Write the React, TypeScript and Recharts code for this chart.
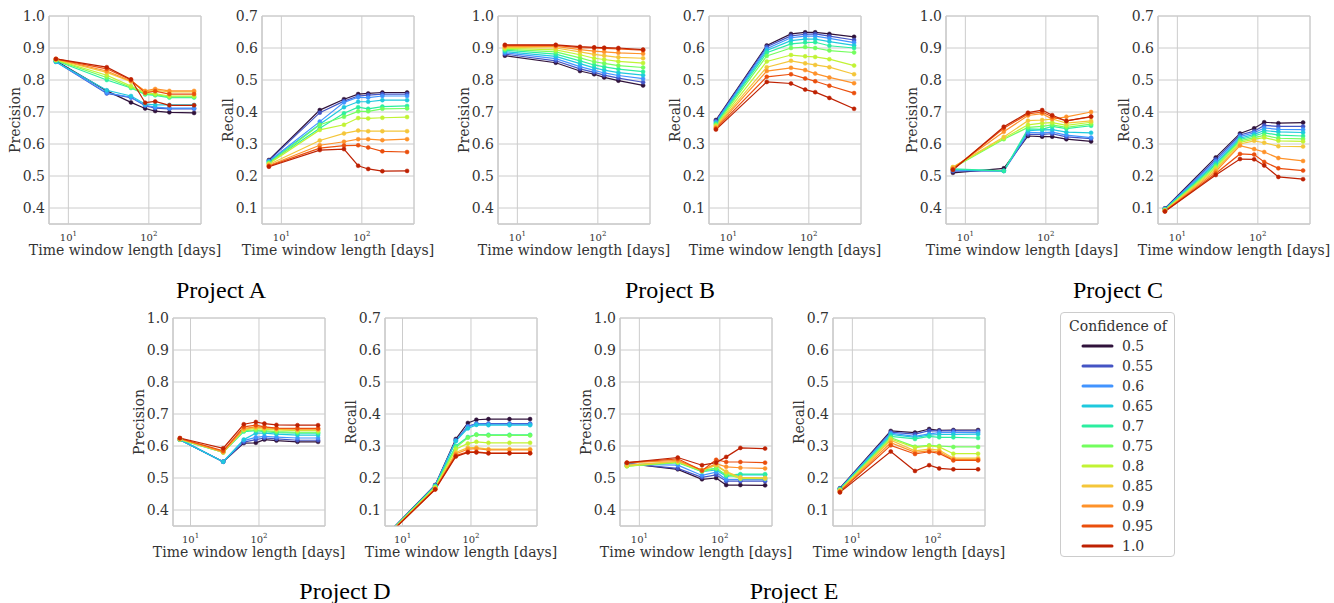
import React from 'react';
import { LineChart, Line, XAxis, YAxis, CartesianGrid, ReferenceArea } from 'recharts';

const CONFIDENCE = ['0.5', '0.55', '0.6', '0.65', '0.7', '0.75', '0.8', '0.85', '0.9', '0.95', '1.0'];
const COLORS = ['#30123b', '#4454c4', '#4294ff', '#1fc9dd', '#2ceea0', '#73fe5e', '#c1f334', '#f4c63a', '#fe922a', '#ea4f0d', '#be2102'];

const DAYS = [7, 30, 60, 90, 120, 180, 365];
const DAYS_D = [7, 30, 60, 90, 120, 180, 365, 730];
const X_TICKS = [10, 100];
const PRECISION_TICKS = [0.4, 0.5, 0.6, 0.7, 0.8, 0.9, 1.0];
const RECALL_TICKS = [0.1, 0.2, 0.3, 0.4, 0.5, 0.6, 0.7];
const PRECISION_DOMAIN = [0.35, 1.0];
const RECALL_DOMAIN = [0.05, 0.7];

const A_PRECISION = [
  [0.860, 0.766, 0.730, 0.711, 0.703, 0.699, 0.697],
  [0.857, 0.758, 0.745, 0.720, 0.712, 0.710, 0.710],
  [0.857, 0.760, 0.746, 0.721, 0.715, 0.712, 0.712],
  [0.857, 0.768, 0.750, 0.725, 0.722, 0.722, 0.722],
  [0.860, 0.800, 0.775, 0.755, 0.752, 0.745, 0.745],
  [0.862, 0.808, 0.777, 0.757, 0.754, 0.747, 0.747],
  [0.863, 0.815, 0.781, 0.760, 0.757, 0.750, 0.750],
  [0.864, 0.824, 0.795, 0.763, 0.768, 0.763, 0.763],
  [0.865, 0.828, 0.797, 0.766, 0.772, 0.766, 0.766],
  [0.866, 0.835, 0.800, 0.760, 0.765, 0.756, 0.756],
  [0.866, 0.840, 0.802, 0.729, 0.733, 0.721, 0.721],
];
const A_RECALL = [
  [0.250, 0.406, 0.440, 0.456, 0.458, 0.461, 0.461],
  [0.248, 0.398, 0.434, 0.450, 0.453, 0.456, 0.456],
  [0.246, 0.370, 0.430, 0.446, 0.445, 0.450, 0.450],
  [0.244, 0.362, 0.415, 0.432, 0.432, 0.437, 0.437],
  [0.242, 0.349, 0.396, 0.415, 0.410, 0.417, 0.419],
  [0.240, 0.360, 0.385, 0.402, 0.402, 0.410, 0.411],
  [0.238, 0.344, 0.360, 0.381, 0.380, 0.382, 0.384],
  [0.236, 0.311, 0.333, 0.342, 0.340, 0.340, 0.340],
  [0.233, 0.296, 0.307, 0.315, 0.315, 0.312, 0.315],
  [0.231, 0.287, 0.295, 0.296, 0.289, 0.277, 0.275],
  [0.229, 0.281, 0.284, 0.232, 0.222, 0.215, 0.216],
];
const B_PRECISION = [
  [0.876, 0.854, 0.828, 0.818, 0.808, 0.798, 0.783],
  [0.881, 0.860, 0.835, 0.824, 0.815, 0.806, 0.793],
  [0.885, 0.867, 0.842, 0.830, 0.822, 0.814, 0.804],
  [0.889, 0.874, 0.851, 0.838, 0.831, 0.823, 0.815],
  [0.893, 0.881, 0.860, 0.847, 0.841, 0.834, 0.826],
  [0.896, 0.888, 0.869, 0.857, 0.852, 0.845, 0.839],
  [0.899, 0.894, 0.879, 0.868, 0.864, 0.858, 0.853],
  [0.902, 0.900, 0.888, 0.880, 0.876, 0.871, 0.868],
  [0.905, 0.905, 0.895, 0.890, 0.888, 0.885, 0.882],
  [0.908, 0.908, 0.901, 0.900, 0.899, 0.897, 0.893],
  [0.910, 0.910, 0.904, 0.902, 0.901, 0.900, 0.895],
];
const B_RECALL = [
  [0.375, 0.608, 0.644, 0.649, 0.649, 0.644, 0.635],
  [0.372, 0.604, 0.638, 0.643, 0.644, 0.637, 0.625],
  [0.369, 0.598, 0.632, 0.637, 0.637, 0.630, 0.617],
  [0.366, 0.592, 0.623, 0.628, 0.628, 0.620, 0.608],
  [0.363, 0.585, 0.613, 0.617, 0.618, 0.607, 0.600],
  [0.360, 0.575, 0.600, 0.603, 0.600, 0.592, 0.586],
  [0.357, 0.558, 0.578, 0.574, 0.572, 0.565, 0.545],
  [0.354, 0.540, 0.560, 0.552, 0.547, 0.540, 0.518],
  [0.351, 0.528, 0.538, 0.531, 0.520, 0.508, 0.490],
  [0.348, 0.510, 0.518, 0.505, 0.496, 0.482, 0.459],
  [0.345, 0.494, 0.489, 0.470, 0.462, 0.444, 0.410],
];
const C_PRECISION = [
  [0.510, 0.524, 0.625, 0.623, 0.623, 0.615, 0.608],
  [0.515, 0.516, 0.630, 0.630, 0.632, 0.622, 0.617],
  [0.518, 0.516, 0.636, 0.635, 0.637, 0.628, 0.620],
  [0.520, 0.516, 0.642, 0.644, 0.645, 0.637, 0.635],
  [0.522, 0.516, 0.647, 0.646, 0.655, 0.648, 0.657],
  [0.525, 0.615, 0.652, 0.655, 0.660, 0.652, 0.662],
  [0.527, 0.618, 0.660, 0.665, 0.667, 0.658, 0.668],
  [0.528, 0.622, 0.673, 0.675, 0.678, 0.665, 0.672],
  [0.524, 0.638, 0.689, 0.695, 0.678, 0.685, 0.700],
  [0.521, 0.649, 0.694, 0.700, 0.685, 0.672, 0.685],
  [0.519, 0.654, 0.698, 0.706, 0.690, 0.672, 0.686],
];
const C_RECALL = [
  [0.099, 0.258, 0.333, 0.349, 0.368, 0.365, 0.367],
  [0.098, 0.252, 0.328, 0.340, 0.358, 0.355, 0.355],
  [0.097, 0.246, 0.323, 0.335, 0.350, 0.346, 0.345],
  [0.096, 0.240, 0.318, 0.330, 0.342, 0.338, 0.336],
  [0.095, 0.235, 0.314, 0.325, 0.335, 0.328, 0.325],
  [0.094, 0.230, 0.310, 0.320, 0.327, 0.318, 0.316],
  [0.093, 0.225, 0.305, 0.315, 0.320, 0.310, 0.308],
  [0.092, 0.220, 0.300, 0.310, 0.304, 0.293, 0.292],
  [0.091, 0.214, 0.295, 0.284, 0.275, 0.256, 0.247],
  [0.090, 0.208, 0.269, 0.267, 0.244, 0.224, 0.217],
  [0.089, 0.203, 0.253, 0.252, 0.233, 0.197, 0.190],
];
const D_PRECISION = [
  [0.620, 0.551, 0.609, 0.610, 0.620, 0.617, 0.613, 0.613],
  [0.620, 0.551, 0.612, 0.620, 0.625, 0.622, 0.618, 0.618],
  [0.620, 0.551, 0.617, 0.627, 0.630, 0.628, 0.625, 0.625],
  [0.620, 0.551, 0.620, 0.640, 0.640, 0.637, 0.634, 0.634],
  [0.620, 0.580, 0.645, 0.648, 0.645, 0.642, 0.640, 0.640],
  [0.620, 0.580, 0.648, 0.650, 0.648, 0.645, 0.643, 0.643],
  [0.621, 0.582, 0.650, 0.655, 0.652, 0.650, 0.648, 0.648],
  [0.622, 0.580, 0.652, 0.658, 0.655, 0.652, 0.650, 0.650],
  [0.623, 0.582, 0.655, 0.660, 0.658, 0.655, 0.653, 0.653],
  [0.624, 0.585, 0.660, 0.665, 0.660, 0.656, 0.655, 0.655],
  [0.625, 0.593, 0.668, 0.675, 0.670, 0.666, 0.665, 0.665],
];
const D_RECALL = [
  [0.040, 0.178, 0.322, 0.372, 0.382, 0.384, 0.384, 0.384],
  [0.039, 0.177, 0.318, 0.362, 0.370, 0.370, 0.370, 0.370],
  [0.039, 0.176, 0.317, 0.360, 0.369, 0.368, 0.368, 0.368],
  [0.038, 0.175, 0.315, 0.355, 0.366, 0.365, 0.365, 0.365],
  [0.038, 0.174, 0.300, 0.328, 0.336, 0.335, 0.335, 0.335],
  [0.037, 0.172, 0.295, 0.326, 0.335, 0.333, 0.333, 0.333],
  [0.036, 0.170, 0.290, 0.308, 0.313, 0.310, 0.310, 0.310],
  [0.035, 0.168, 0.280, 0.295, 0.295, 0.290, 0.290, 0.290],
  [0.035, 0.166, 0.275, 0.290, 0.292, 0.288, 0.288, 0.288],
  [0.034, 0.165, 0.270, 0.282, 0.282, 0.278, 0.278, 0.278],
  [0.033, 0.164, 0.267, 0.280, 0.280, 0.277, 0.277, 0.277],
];
const E_PRECISION = [
  [0.546, 0.527, 0.496, 0.500, 0.478, 0.478, 0.477],
  [0.545, 0.530, 0.502, 0.510, 0.490, 0.490, 0.490],
  [0.543, 0.540, 0.508, 0.518, 0.495, 0.495, 0.495],
  [0.540, 0.550, 0.520, 0.525, 0.505, 0.510, 0.510],
  [0.538, 0.548, 0.525, 0.530, 0.508, 0.512, 0.512],
  [0.537, 0.548, 0.520, 0.530, 0.510, 0.500, 0.500],
  [0.537, 0.550, 0.523, 0.540, 0.517, 0.498, 0.498],
  [0.540, 0.552, 0.525, 0.540, 0.520, 0.502, 0.500],
  [0.547, 0.555, 0.525, 0.545, 0.535, 0.532, 0.530],
  [0.548, 0.560, 0.523, 0.557, 0.550, 0.550, 0.548],
  [0.548, 0.564, 0.540, 0.548, 0.566, 0.594, 0.592],
];
const E_RECALL = [
  [0.168, 0.347, 0.342, 0.353, 0.349, 0.350, 0.350],
  [0.167, 0.343, 0.337, 0.348, 0.347, 0.348, 0.347],
  [0.166, 0.340, 0.330, 0.338, 0.342, 0.342, 0.342],
  [0.165, 0.336, 0.327, 0.334, 0.336, 0.336, 0.337],
  [0.164, 0.330, 0.322, 0.330, 0.327, 0.327, 0.325],
  [0.163, 0.326, 0.298, 0.302, 0.300, 0.297, 0.297],
  [0.162, 0.322, 0.295, 0.300, 0.297, 0.276, 0.276],
  [0.160, 0.318, 0.285, 0.290, 0.287, 0.262, 0.262],
  [0.158, 0.310, 0.280, 0.285, 0.282, 0.258, 0.258],
  [0.157, 0.302, 0.275, 0.282, 0.277, 0.255, 0.255],
  [0.155, 0.283, 0.222, 0.240, 0.230, 0.227, 0.227],
];

const PLOT_W = 152;
const PLOT_H = 208;
const Y_AXIS_W = 50;
const X_AXIS_H = 30;
const M_TOP = 14;
const M_RIGHT = 5;

const TEXT_COLOR = '#333333';
const GRID_COLOR = '#cccccc';
const SERIF = "'DejaVu Serif', serif";

type Panel = {
  id: string;
  metric: 'Precision' | 'Recall';
  days: number[];
  values: number[][];
  left: number;
  top: number;
};

const PANELS: Panel[] = [
  { id: 'ap', metric: 'Precision', days: DAYS, values: A_PRECISION, left: 49, top: 16 },
  { id: 'ar', metric: 'Recall', days: DAYS, values: A_RECALL, left: 262, top: 16 },
  { id: 'bp', metric: 'Precision', days: DAYS, values: B_PRECISION, left: 498, top: 16 },
  { id: 'br', metric: 'Recall', days: DAYS, values: B_RECALL, left: 709, top: 16 },
  { id: 'cp', metric: 'Precision', days: DAYS, values: C_PRECISION, left: 946, top: 16 },
  { id: 'cr', metric: 'Recall', days: DAYS, values: C_RECALL, left: 1158, top: 16 },
  { id: 'dp', metric: 'Precision', days: DAYS_D, values: D_PRECISION, left: 173, top: 318 },
  { id: 'dr', metric: 'Recall', days: DAYS_D, values: D_RECALL, left: 385, top: 318 },
  { id: 'ep', metric: 'Precision', days: DAYS, values: E_PRECISION, left: 620, top: 318 },
  { id: 'er', metric: 'Recall', days: DAYS, values: E_RECALL, left: 833, top: 318 },
];

const TITLES = [
  { text: 'Project A', x: 221, y: 298 },
  { text: 'Project B', x: 670, y: 298 },
  { text: 'Project C', x: 1118, y: 298 },
  { text: 'Project D', x: 345, y: 599 },
  { text: 'Project E', x: 794, y: 599 },
];

function logDomain(days: number[]): [number, number] {
  const lo = Math.log10(days[0]);
  const hi = Math.log10(days[days.length - 1]);
  const pad = (hi - lo) * 0.05;
  return [Math.pow(10, lo - pad), Math.pow(10, hi + pad)];
}

const XTick = (props: any) => {
  const { x, y, payload } = props;
  const exp = Math.round(Math.log10(payload.value));
  return (
    <text x={x} y={y + 17} textAnchor="middle" fill={TEXT_COLOR} fontFamily={SERIF} fontSize={10}>
      10<tspan dy={-5} fontSize={7}>{exp}</tspan>
    </text>
  );
};

const YTick = (props: any) => {
  const { x, y, payload } = props;
  return (
    <text x={x - 4} y={y + 5} textAnchor="end" fill={TEXT_COLOR} fontFamily={SERIF} fontSize={14}>
      {Number(payload.value).toFixed(1)}
    </text>
  );
};

function PanelChart({ panel }: { panel: Panel }) {
  const data = panel.days.map((d, i) => {
    const row: Record<string, number> = { days: d };
    panel.values.forEach((series, s) => {
      row['s' + s] = series[i];
    });
    return row;
  });
  const xDomain = logDomain(panel.days);
  const yDomain = panel.metric === 'Precision' ? PRECISION_DOMAIN : RECALL_DOMAIN;
  const yTicks = panel.metric === 'Precision' ? PRECISION_TICKS : RECALL_TICKS;
  const width = Y_AXIS_W + PLOT_W + M_RIGHT;
  const height = M_TOP + PLOT_H + X_AXIS_H;
  return (
    <div style={{ position: 'absolute', left: panel.left - Y_AXIS_W, top: panel.top - M_TOP, width, height }}>
      <LineChart width={width} height={height} data={data} margin={{ top: M_TOP, right: M_RIGHT, bottom: 0, left: 0 }} style={{ overflow: 'visible' }}>
        <CartesianGrid stroke={GRID_COLOR} strokeWidth={1} />
        <XAxis
          dataKey="days"
          type="number"
          scale="log"
          domain={xDomain}
          allowDataOverflow
          ticks={X_TICKS}
          tick={<XTick />}
          tickLine={false}
          axisLine={{ stroke: GRID_COLOR }}
          tickSize={0}
          tickMargin={0}
          height={X_AXIS_H}
          interval={0}
        />
        <YAxis
          type="number"
          domain={yDomain}
          allowDataOverflow
          ticks={yTicks}
          tick={<YTick />}
          tickLine={false}
          axisLine={{ stroke: GRID_COLOR }}
          tickSize={0}
          tickMargin={0}
          width={Y_AXIS_W}
          interval={0}
        />
        <ReferenceArea
          x1={xDomain[0]}
          x2={xDomain[1]}
          y1={yDomain[0]}
          y2={yDomain[1]}
          fill="none"
          stroke={GRID_COLOR}
          strokeWidth={1}
          ifOverflow="visible"
        />
        {panel.values.map((_, s) => (
          <Line
            key={s}
            type="linear"
            dataKey={'s' + s}
            stroke={COLORS[s]}
            strokeWidth={1.2}
            dot={{ r: 2, fill: COLORS[s], stroke: COLORS[s], strokeWidth: 0.5 }}
            activeDot={false}
            isAnimationActive={false}
          />
        ))}
      </LineChart>
    </div>
  );
}

function Overlay() {
  return (
    <svg width={1334} height={603} style={{ position: 'absolute', left: 0, top: 0, pointerEvents: 'none' }}>
      {PANELS.map((p) => (
        <g key={p.id}>
          <text
            transform={`translate(${p.left - 34}, ${p.top + PLOT_H / 2}) rotate(-90)`}
            textAnchor="middle"
            dominantBaseline="central"
            fill={TEXT_COLOR}
            fontFamily={SERIF}
            fontSize={14}
          >
            {p.metric}
          </text>
          <text
            x={p.left + PLOT_W / 2}
            y={p.top + PLOT_H + 31}
            textAnchor="middle"
            fill={TEXT_COLOR}
            fontFamily={SERIF}
            fontSize={14}
          >
            Time window length [days]
          </text>
        </g>
      ))}
      {TITLES.map((t) => (
        <text key={t.text} x={t.x} y={t.y} textAnchor="middle" fill="#000" fontFamily="'Liberation Serif', serif" fontSize={24}>
          {t.text}
        </text>
      ))}
    </svg>
  );
}

function LegendBox() {
  return (
    <div
      style={{
        position: 'absolute',
        left: 1060,
        top: 312,
        width: 115,
        height: 245,
        border: '1px solid #cccccc',
        borderRadius: 4,
        background: '#fff',
        boxSizing: 'border-box',
      }}
    >
      <svg width={113} height={243} style={{ position: 'absolute', left: 0, top: 0 }}>
        <text x={57} y={18} textAnchor="middle" fill={TEXT_COLOR} fontFamily={SERIF} fontSize={14}>
          Confidence of
        </text>
        {CONFIDENCE.map((c, i) => (
          <g key={c}>
            <line x1={22} x2={51} y1={33 + i * 20} y2={33 + i * 20} stroke={COLORS[i]} strokeWidth={3} strokeLinecap="round" />
            <text x={61} y={38 + i * 20} fill={TEXT_COLOR} fontFamily={SERIF} fontSize={14}>
              {c}
            </text>
          </g>
        ))}
      </svg>
    </div>
  );
}

export default function App() {
  return (
    <div style={{ position: 'absolute', left: 0, top: 0, width: 1334, height: 603, background: '#fff', overflow: 'hidden' }}>
      {PANELS.map((p) => (
        <PanelChart key={p.id} panel={p} />
      ))}
      <Overlay />
      <LegendBox />
    </div>
  );
}
